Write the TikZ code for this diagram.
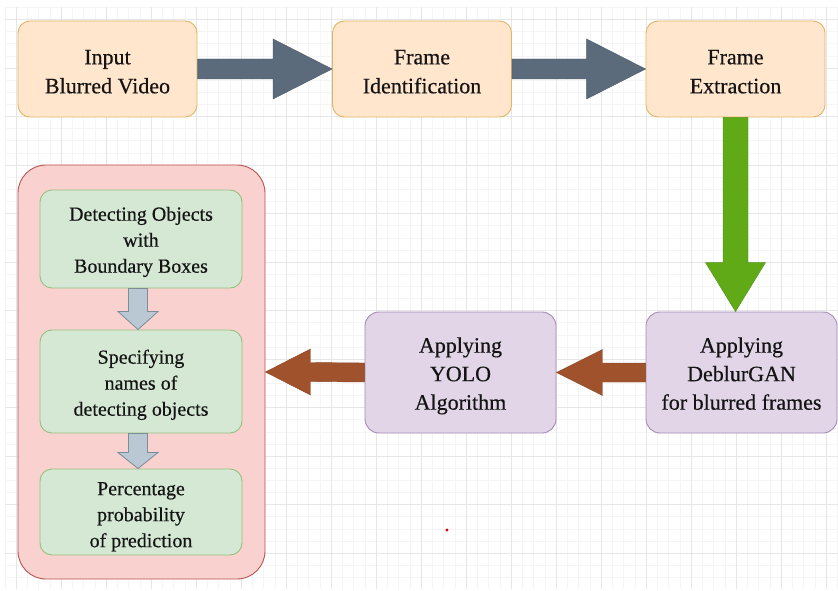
\documentclass[tikz,border=0pt]{standalone}
\usepackage{fontspec}
\setmainfont{Liberation Serif}
\newfontfamily\boxfont{Liberation Serif}[FakeBold=0.4]
\usetikzlibrary{calc}

\definecolor{peach}{HTML}{FFE6CC}
\definecolor{peachline}{HTML}{E3B463}
\definecolor{lilac}{HTML}{E1D5E7}
\definecolor{lilacline}{HTML}{A58BB5}
\definecolor{mint}{HTML}{D5E8D4}
\definecolor{mintline}{HTML}{97C084}
\definecolor{rose}{HTML}{F9D1CF}
\definecolor{roseline}{HTML}{B85450}
\definecolor{slate}{HTML}{5B6B7C}
\definecolor{leaf}{HTML}{60A917}
\definecolor{sienna}{HTML}{A0522D}
\definecolor{steel}{HTML}{BAC8D3}
\definecolor{steelline}{HTML}{7D8C99}
\definecolor{gridminor}{HTML}{F5F5F5}
\definecolor{gridmajor}{HTML}{E6E6E6}
\definecolor{inktext}{HTML}{141414}

% centred block of lines, lowered by #1 without changing the box size
\newcommand{\boxtext}[2]{\raisebox{-#1}[\height][\depth]{\begin{tabular}{@{}c@{}}#2\end{tabular}}}

\begin{document}
\begin{tikzpicture}[x=1pt,y=-1pt,
  every node/.style={text=inktext, align=center, inner sep=0pt},
  topbox/.style={draw=peachline, fill=peach, line width=0.9pt, rounded corners=12pt,
    minimum width=179pt, minimum height=96pt, font=\boxfont\fontsize{22}{29}\selectfont},
  procbox/.style={draw=lilacline, fill=lilac, line width=0.9pt, rounded corners=14pt,
    minimum width=191pt, minimum height=121pt, font=\boxfont\fontsize{22}{28.5}\selectfont},
  holder/.style={draw=roseline, fill=rose, line width=0.9pt, rounded corners=28pt,
    minimum width=247pt, minimum height=414pt},
  stagebox/.style={draw=mintline, fill=mint, line width=0.9pt, rounded corners=12pt,
    minimum width=202pt, font=\boxfont\fontsize{20}{26}\selectfont},
  slatearrow/.style={fill=slate, draw=slate!85!black, line width=0.4pt},
  leafarrow/.style={fill=leaf, draw=leaf!85!black, line width=0.4pt},
  siennaarrow/.style={fill=sienna, draw=sienna!85!black, line width=0.4pt},
  steelarrow/.style={fill=steel, draw=steelline, line width=0.8pt},
  minorgrid/.style={draw=gridminor, line width=0.5pt},
  majorgrid/.style={draw=gridmajor, line width=0.8pt}]

\useasboundingbox (0,0) rectangle (838,591);
\fill[white] (0,0) rectangle (838,591);

% background grid
\begin{scope}
  \clip (5,8) rectangle (838,588);
  \foreach \i in {-1,...,74} \draw[minorgrid] ({16+11.25*\i},0) -- ++(0,600);
  \foreach \j in {-1,...,48} \draw[minorgrid] (0,{19.5+12.125*\j}) -- ++(850,0);
  \foreach \i in {-1,...,19} \draw[majorgrid] ({16+45*\i},0) -- ++(0,600);
  \foreach \j in {-1,...,12} \draw[majorgrid] (0,{19.5+48.5*\j}) -- ++(850,0);
\end{scope}

% top row
\node[topbox] (in) at (107.5,69) {\boxtext{4pt}{Input\\Blurred Video}};
\node[topbox] (fi) at (422,69) {\boxtext{4pt}{Frame\\Identification}};
\node[topbox] (fe) at (735.5,69) {\boxtext{4pt}{Frame\\Extraction}};

% middle row
\node[procbox] (yolo) at (460.5,372.5) {\boxtext{3pt}{Applying\\YOLO\\Algorithm}};
\node[procbox] (dg) at (741.5,372.5) {\boxtext{3pt}{Applying\\DeblurGAN\\for blurred frames}};

% detection stages
\node[holder] (det) at (141.5,372) {};
\node[stagebox, minimum height=98pt] (g1) at (141,239) {\boxtext{2.5pt}{Detecting Objects\\with\\Boundary Boxes}};
\node[stagebox, minimum height=103pt] (g2) at (141,381.5) {\boxtext{3pt}{Specifying\\names of\\detecting objects}};
\node[stagebox, minimum height=86pt] (g3) at (141,512) {\boxtext{4pt}{Percentage\\probability\\of prediction}};

% block arrows along the top row
\draw[slatearrow] ($(in.east)+(0,-10)$) -- ($(fi.west)+(-59,-10)$) -- ($(fi.west)+(-59,-30)$)
  -- (fi.west) -- ($(fi.west)+(-59,30)$) -- ($(fi.west)+(-59,10)$) -- ($(in.east)+(0,10)$) -- cycle;
\draw[slatearrow] ($(fi.east)+(0,-10)$) -- ($(fe.west)+(-59,-10)$) -- ($(fe.west)+(-59,-30)$)
  -- (fe.west) -- ($(fe.west)+(-59,30)$) -- ($(fe.west)+(-59,10)$) -- ($(fi.east)+(0,10)$) -- cycle;

% downward arrow to DeblurGAN
\coordinate (gtip) at (fe.south |- dg.north);
\draw[leafarrow] ($(fe.south)+(-12.5,0)$) -- ($(gtip)+(-12.5,-49)$) -- ($(gtip)+(-30,-49)$)
  -- (gtip) -- ($(gtip)+(30,-49)$) -- ($(gtip)+(12.5,-49)$) -- ($(fe.south)+(12.5,0)$) -- cycle;

% leftward arrows
\draw[siennaarrow] ($(dg.west)+(0,-9.5)$) -- ($(yolo.east)+(46,-9.5)$) -- ($(yolo.east)+(46,-23)$)
  -- (yolo.east) -- ($(yolo.east)+(46,23)$) -- ($(yolo.east)+(46,9.5)$) -- ($(dg.west)+(0,9.5)$) -- cycle;
\draw[siennaarrow] ($(yolo.west)+(0,-9.5)$) -- ($(det.east)+(45,-9.5)$) -- ($(det.east)+(45,-23)$)
  -- (det.east) -- ($(det.east)+(45,23)$) -- ($(det.east)+(45,9.5)$) -- ($(yolo.west)+(0,9.5)$) -- cycle;

% arrows between the stages
\coordinate (s1) at ($(g1.south)+(-3,0)$);
\coordinate (t1) at (s1 |- g2.north);
\draw[steelarrow] ($(s1)+(-9.5,0)$) -- ($(t1)+(-9.5,-18)$) -- ($(t1)+(-20,-18)$)
  -- (t1) -- ($(t1)+(20,-18)$) -- ($(t1)+(9.5,-18)$) -- ($(s1)+(9.5,0)$) -- cycle;
\coordinate (s2) at ($(g2.south)+(-3,0)$);
\coordinate (t2) at (s2 |- g3.north);
\draw[steelarrow] ($(s2)+(-9.5,0)$) -- ($(t2)+(-9.5,-16)$) -- ($(t2)+(-20,-16)$)
  -- (t2) -- ($(t2)+(20,-16)$) -- ($(t2)+(9.5,-16)$) -- ($(s2)+(9.5,0)$) -- cycle;

% small red dot
\fill[red!85!black] (447,530) circle (1.6);

\end{tikzpicture}
\end{document}
